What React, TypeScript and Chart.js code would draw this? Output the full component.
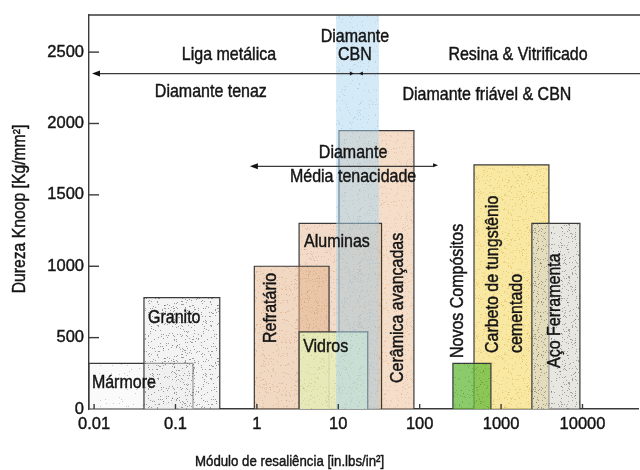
import React, { useEffect, useRef } from 'react';
import { Chart, registerables } from 'chart.js';

Chart.register(...registerables);

// Knoop hardness versus modulus of resilience for common workpiece materials
const materials = [
  'Mármore',
  'Granito',
  'Refratário',
  'Aluminas',
  'Vidros',
  'Cerâmica avançadas',
  'Novos Compósitos',
  'Carbeto de tungstênio cementado',
  'Aço Ferramenta',
];
const resilienceFrom = [0.00866, 0.041, 0.93, 3.3, 3.3, 10.2, 256, 465, 2390];
const resilienceTo = [0.164, 0.35, 7.7, 34, 23, 85, 750, 3870, 9300];
const knoopHardness = [320, 780, 1000, 1300, 540, 1950, 320, 1710, 1300];

// Diamond / CBN band across the whole hardness range
const cbnRange = [9.4, 31.6];

// Bond and abrasive zones
const bondLevel = 2350;
const mediumToughnessLevel = 1700;
const mediumToughnessRange = [0.82, 146];

const xTickValues = [0.01, 0.1, 1, 10, 100, 1000, 10000];
const xTickLabels = ['0.01', '0.1', '1', '10', '100', '1000', '10000'];
const yTickValues = [0, 500, 1000, 1500, 2000, 2500];
const xRange = [0.00866, 48100];
const yRange = [0, 2760];

const INK = '#141414';
const LINE = '#3a3a3a';
const FAMILY = '"Liberation Sans", Arial, sans-serif';

// fill style per material: [base colour, dot colour, dot count]
const materialLooks: [string, string, number][] = [
  ['rgba(246,246,246,0.5)', 'rgba(110,110,110,0.35)', 45],
  ['rgba(234,234,234,0.55)', 'rgba(85,85,85,0.55)', 230],
  ['rgba(226,178,136,0.5)', 'rgba(200,120,60,0.3)', 200],
  ['rgba(228,182,142,0.48)', 'rgba(200,120,60,0.28)', 180],
  ['rgba(232,238,188,0.88)', 'rgba(165,185,115,0.4)', 180],
  ['rgba(236,198,164,0.58)', 'rgba(200,130,80,0.28)', 180],
  ['rgba(108,188,66,0.78)', 'rgba(70,140,45,0.45)', 200],
  ['rgba(248,226,138,0.8)', 'rgba(215,175,80,0.45)', 240],
  ['rgba(216,214,206,0.62)', 'rgba(80,80,80,0.45)', 230],
];
// draw layer: larger number sits lower
const materialLayer = [3, 2, 6, 8, 5, 9, 2, 4, 3];

function stipple(base: string, dot: string, count: number, seed: number): CanvasPattern | string {
  const c = document.createElement('canvas');
  c.width = 53;
  c.height = 53;
  const g = c.getContext('2d');
  if (!g) return base;
  g.fillStyle = base;
  g.fillRect(0, 0, 53, 53);
  g.fillStyle = dot;
  let s = seed;
  for (let i = 0; i < count; i++) {
    s = (s * 16807) % 2147483647;
    const x = s % 53;
    s = (s * 16807) % 2147483647;
    const y = s % 53;
    g.fillRect(x, y, 1, 1);
  }
  return g.createPattern(c, 'repeat') || base;
}

export default function App() {
  const ref = useRef<HTMLCanvasElement>(null);

  useEffect(() => {
    document.body.style.margin = '0';
    const canvas = ref.current;
    if (!canvas) return;

    const datasets: any[] = materials.map((name, i) => {
      const [base, dot, count] = materialLooks[i];
      return {
        label: name,
        data: [
          { x: resilienceFrom[i], y: 0 },
          { x: resilienceFrom[i], y: knoopHardness[i] },
          { x: resilienceTo[i], y: knoopHardness[i] },
          { x: resilienceTo[i], y: 0 },
        ],
        showLine: true,
        fill: 'origin',
        backgroundColor: stipple(base, dot, count, 7919 * (i + 3)),
        borderColor: LINE,
        borderWidth: 1.2,
        pointRadius: 0,
        tension: 0,
        order: materialLayer[i],
      };
    });

    datasets.push({
      label: 'Diamante CBN',
      data: [
        { x: cbnRange[0], y: 0 },
        { x: cbnRange[0], y: yRange[1] },
        { x: cbnRange[1], y: yRange[1] },
        { x: cbnRange[1], y: 0 },
      ],
      showLine: true,
      fill: 'origin',
      backgroundColor: stipple('rgba(172,214,240,0.5)', 'rgba(120,170,210,0.35)', 120, 4421),
      borderWidth: 0,
      borderColor: 'rgba(0,0,0,0)',
      pointRadius: 0,
      order: 0,
    });

    const annotate = {
      id: 'annotate',
      afterDatasetsDraw(chart: any) {
        const { ctx, chartArea: ca, scales } = chart;
        const px = (v: number) => scales.x.getPixelForValue(v);
        const py = (v: number) => scales.y.getPixelForValue(v);
        ctx.save();
        ctx.strokeStyle = LINE;
        ctx.fillStyle = INK;
        ctx.lineWidth = 1.4;

        const seg = (x1: number, y1: number, x2: number, y2: number) => {
          ctx.beginPath();
          ctx.moveTo(x1, y1);
          ctx.lineTo(x2, y2);
          ctx.stroke();
        };
        const head = (x: number, y: number, dir: number, len: number, half: number) => {
          ctx.beginPath();
          ctx.moveTo(x, y);
          ctx.lineTo(x - dir * len, y - half);
          ctx.lineTo(x - dir * len, y + half);
          ctx.closePath();
          ctx.fill();
        };

        // top frame line
        seg(ca.left, ca.top, chart.width, ca.top);
        // inner tick marks
        yTickValues.forEach((v) => {
          if (v > 0) seg(ca.left, py(v), ca.left + 10, py(v));
        });
        xTickValues.forEach((v) => seg(px(v), ca.bottom, px(v), ca.bottom - 5));

        // bond arrow
        const yb = py(bondLevel);
        ctx.lineWidth = 1.3;
        seg(ca.left + 6, yb, chart.width, yb);
        head(ca.left + 3, yb, -1, 8, 3);
        const cm = px(16);
        head(cm - 1, yb, 1, 4, 2);
        head(cm + 4, yb, -1, 4, 2);

        // medium toughness arrow
        const ym = py(mediumToughnessLevel);
        const xa = px(mediumToughnessRange[0]);
        const xe = px(mediumToughnessRange[1]);
        seg(xa + 5, ym, xe, ym);
        head(xa, ym, -1, 8, 3);
        head(xe + 5, ym - 1, 1, 5, 2);

        // condensed caption text: taller glyphs squeezed horizontally, slightly heavy
        const SQ = 0.86;
        const text = (t: string, x: number, y: number, size: number, align: CanvasTextAlign, rot = 0) => {
          ctx.save();
          ctx.translate(x, y);
          if (rot) ctx.rotate(rot);
          ctx.scale(SQ, 1);
          ctx.font = `${size}px ${FAMILY}`;
          ctx.textAlign = align;
          ctx.textBaseline = 'middle';
          ctx.fillStyle = INK;
          ctx.strokeStyle = INK;
          ctx.lineWidth = 0.45;
          ctx.fillText(t, 0, 0);
          ctx.strokeText(t, 0, 0);
          ctx.restore();
        };
        const CAP = 18.6;
        const vtext = (lines: string[], xs: number[], y: number) => {
          lines.forEach((t, i) => text(t, xs[i], y, CAP, 'left', -Math.PI / 2));
        };

        // zone captions
        text('Liga metálica', px(0.454), py(2479), CAP, 'center');
        text('Diamante', px(16), py(2605), CAP, 'center');
        text('CBN', px(16), py(2479), CAP, 'center');
        text('Resina & Vitrificado', px(1615), py(2479), CAP, 'center');
        text('Diamante tenaz', px(0.272), py(2220), CAP, 'center');
        text('Diamante friável & CBN', px(670), py(2199), CAP, 'center');
        text('Diamante', px(15.2), py(1793), CAP, 'center');
        text('Média tenacidade', px(15.2), py(1625), CAP, 'center');

        // material labels
        text(materials[0], px(0.0094), py(182), CAP, 'left');
        text(materials[1], px(0.046), py(637), CAP, 'left');
        text(materials[3], px(3.8), py(1169), CAP, 'left');
        text(materials[4], px(3.7), py(434), CAP, 'left');
        vtext([materials[2]], [px(1.49)], py(462));
        vtext([materials[5]], [px(54)], py(182));
        vtext([materials[6]], [px(295)], py(357));
        vtext(['Carbeto de tungstênio', 'cementado'], [px(795), px(1566)], py(392));
        vtext([materials[8]], [px(4590)], py(287));

        // axis titles
        text('Módulo de resaliência [in.lbs/in²]', 195, 462, 15.4, 'left');
        text('Dureza Knoop [Kg/mm²]', 20, 209, 18.3, 'center', -Math.PI / 2);

        ctx.restore();
      },
    };

    const chart = new Chart(canvas, {
      type: 'scatter',
      data: { datasets },
      plugins: [annotate],
      options: {
        animation: false,
        responsive: true,
        maintainAspectRatio: false,
        layout: { padding: { top: 15, right: 2, left: 0, bottom: 0 } },
        plugins: { legend: { display: false }, tooltip: { enabled: false } },
        scales: {
          x: {
            type: 'logarithmic',
            min: xRange[0],
            max: xRange[1],
            afterBuildTicks: (s: any) => {
              s.ticks = xTickValues.map((v) => ({ value: v }));
            },
            afterFit: (s: any) => {
              s.height = 61;
            },
            grid: { display: false, drawTicks: false },
            border: { display: true, color: LINE, width: 1.4 },
            ticks: {
              autoSkip: false,
              maxRotation: 0,
              minRotation: 0,
              padding: 6,
              color: INK,
              textStrokeColor: INK,
              textStrokeWidth: 0.4,
              font: { family: FAMILY, size: 16.5 },
              callback: (_v: any, i: number) => xTickLabels[i],
            },
          },
          y: {
            type: 'linear',
            min: yRange[0],
            max: yRange[1],
            afterBuildTicks: (s: any) => {
              s.ticks = yTickValues.map((v) => ({ value: v }));
            },
            afterFit: (s: any) => {
              s.width = 89;
            },
            grid: { display: false, drawTicks: false },
            border: { display: true, color: LINE, width: 1.4 },
            ticks: {
              padding: 5,
              color: INK,
              textStrokeColor: INK,
              textStrokeWidth: 0.4,
              font: { family: FAMILY, size: 16.5 },
              callback: (v: any) => String(v),
            },
          },
        },
      },
    } as any);

    return () => chart.destroy();
  }, []);

  return (
    <div style={{ width: 640, height: 470, position: 'relative', background: '#fff' }}>
      <canvas ref={ref} />
    </div>
  );
}
